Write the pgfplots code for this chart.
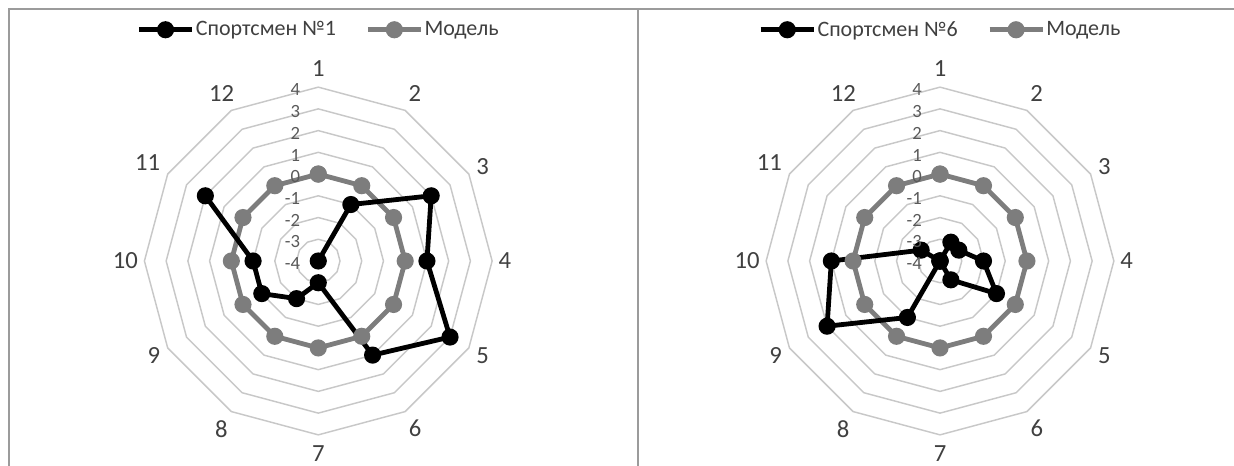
\documentclass[border=0pt]{standalone}
\usepackage{pgfplots}
\usepackage{pgfplotstable}
\pgfplotsset{compat=1.18}
\usepackage{fontspec}
\setmainfont{Carlito}
\definecolor{gridc}{RGB}{200,200,200}
\definecolor{modc}{RGB}{125,125,125}
\definecolor{framec}{RGB}{155,155,155}
\definecolor{tickc}{RGB}{89,89,89}
\definecolor{labc}{RGB}{64,64,64}

\pgfplotstableread{
ang v
90 -4
60 -1
30 2
0 1
-30 3
-60 1
-90 -3
-120 -2
-150 -1
180 -1
150 2
}\athA

\pgfplotstableread{
ang v
90 -4
60 -3
30 -3
0 -2
-30 -1
-60 -3
-90 -4
-120 -1
-150 2
180 1
150 -3
120 -4
90 -4
}\athB

\pgfplotstableread{
ang v
90 0
60 0
30 0
0 0
-30 0
-60 0
-90 0
-120 0
-150 0
180 0
150 0
120 0
90 0
}\model

\pgfplotsset{
 radar/.style={
   hide axis, clip=false,
   x=16.3pt, y=16.3pt,
   xmin=-8, xmax=8, ymin=-8, ymax=8,
   anchor=center,
   legend style={draw=none, fill=none, at={(0.5,1.165)}, anchor=center,
     legend columns=2, font=\fontsize{16.5}{19}\selectfont, text=labc,
     /tikz/every even column/.append style={column sep=21pt},
     inner sep=0pt, nodes={inner sep=1pt}},
   legend image code/.code={\draw[mark repeat=2,mark phase=2] plot coordinates {(0cm,0cm) (0.7cm,0cm) (1.4cm,0cm)};},
 },
 ath/.style={black, line width=3.6pt, mark=*, mark size=4.6pt, mark options={solid}},
 mod/.style={modc, line width=3.6pt, mark=*, mark size=4.6pt, mark options={solid}},
 ring/.style={gridc, line width=1.1pt, no marks, forget plot, data cs=polar},
}

\newcommand{\rings}{%
  \pgfplotsinvokeforeach{1,...,8}{%
    \addplot[ring] coordinates {(90,##1) (60,##1) (30,##1) (0,##1) (-30,##1) (-60,##1) (-90,##1) (-120,##1) (-150,##1) (180,##1) (150,##1) (120,##1) (90,##1)};
  }%
}

\newcommand{\radarlabels}{%
  \foreach \k in {1,...,12} {%
    \pgfmathsetmacro\a{90-30*(\k-1)}%
    \pgfmathtruncatemacro\b{mod(90-30*(\k-1)+180+720,360)}%
    \pgfmathsetmacro\R{0.75*(173.7+6.5+4*abs(sin(\a)))}%
    \node[font=\fontsize{18.5}{22}\selectfont, text=labc, inner sep=0pt, anchor=\b] at (\a:\R pt) {\k};
  }%
  \foreach \t in {-4,...,4} {%
    \pgfmathsetmacro\yy{0.75*((\t+4)*21.7-2.5)}%
    \node[font=\fontsize{14}{16}\selectfont, text=tickc, inner sep=0pt, anchor=east] at (-13.5pt,\yy pt) {\t};
  }%
}

\begin{document}
\begin{tikzpicture}
\useasboundingbox (0,0) rectangle (925.5pt,-349.5pt);
\draw[framec, line width=1.5pt] (6.75pt,-349.5pt) -- (6.75pt,-6.75pt) -- (925.5pt,-6.75pt);
\draw[framec, line width=1.5pt] (478.5pt,-6.75pt) -- (478.5pt,-349.5pt);

\begin{axis}[radar, at={(238.7pt,-195.75pt)}]
\rings
\addplot[mod, forget plot, data cs=polar] table[x=ang, y expr=\thisrow{v}+4] {\model};
\addplot[ath, forget plot, data cs=polar] table[x=ang, y expr=\thisrow{v}+4] {\athA};
\addlegendimage{ath}
\addlegendentry{Спортсмен №1}
\addlegendimage{mod}
\addlegendentry{Модель}
\end{axis}
\begin{scope}[shift={(238.7pt,-195.75pt)}]
\radarlabels
\end{scope}

\begin{axis}[radar, at={(705pt,-195.75pt)}]
\rings
\addplot[mod, forget plot, data cs=polar] table[x=ang, y expr=\thisrow{v}+4] {\model};
\addplot[ath, forget plot, data cs=polar] table[x=ang, y expr=\thisrow{v}+4] {\athB};
\addlegendimage{ath}
\addlegendentry{Спортсмен №6}
\addlegendimage{mod}
\addlegendentry{Модель}
\end{axis}
\begin{scope}[shift={(705pt,-195.75pt)}]
\radarlabels
\end{scope}
\end{tikzpicture}
\end{document}
